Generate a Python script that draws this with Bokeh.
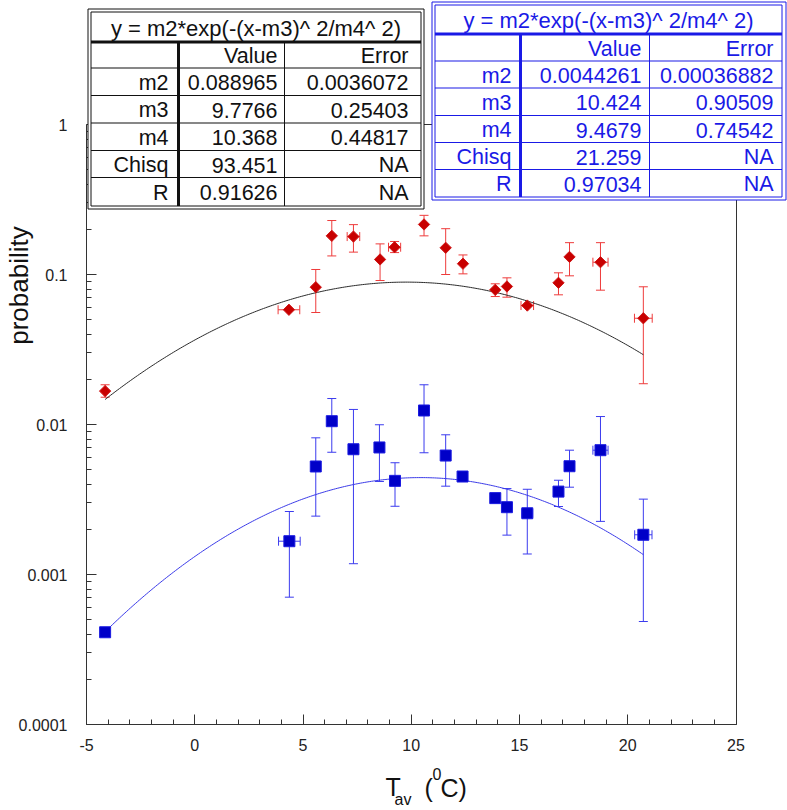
import numpy as np
from bokeh.plotting import figure
from bokeh.models import (ColumnDataSource, Whisker, TeeHead, FixedTicker,
                          CustomJSTickFormatter, Label, BoxAnnotation, LinearAxis, LogAxis, Range1d)
from bokeh.embed import file_html
from bokeh.resources import INLINE

# ---------------- data ----------------
red_x = [-4.14, 4.35, 5.59, 6.33, 7.33, 8.56, 9.23, 10.59, 11.59, 12.39, 13.88, 14.42, 15.36, 16.80, 17.31, 18.74, 20.72]
red_y = [0.0167, 0.0582, 0.0823, 0.181, 0.179, 0.126, 0.152, 0.2156, 0.1507, 0.118, 0.079, 0.0832, 0.0621, 0.088, 0.131, 0.1208, 0.0511]
red_lo = [0.0152, 0.0582, 0.0558, 0.133, 0.141, 0.0912, 0.140, 0.181, 0.100, 0.101, 0.0713, 0.0706, 0.0621, 0.0732, 0.098, 0.0786, 0.0187]
red_hi = [0.0184, 0.0582, 0.108, 0.229, 0.215, 0.160, 0.166, 0.248, 0.202, 0.135, 0.0867, 0.095, 0.0621, 0.1026, 0.163, 0.163, 0.0828]
red_xerr = [0, 0.5, 0, 0, 0.29, 0, 0.28, 0, 0, 0, 0, 0, 0.29, 0, 0, 0.35, 0.41]

blue_x = [-4.14, 4.37, 5.59, 6.33, 7.33, 8.53, 9.25, 10.59, 11.59, 12.37, 13.88, 14.42, 15.36, 16.80, 17.31, 18.74, 20.72]
blue_y = [0.000412, 0.001667, 0.00525, 0.01052, 0.00684, 0.00703, 0.00421, 0.0124, 0.00621, 0.0045, 0.00323, 0.00281, 0.00256, 0.00357, 0.00527, 0.00674, 0.00184]
blue_lo = [0.000412, 0.000706, 0.00245, 0.00653, 0.00118, 0.00417, 0.00285, 0.00648, 0.00388, 0.0045, 0.00323, 0.00183, 0.00137, 0.00284, 0.00382, 0.00226, 0.000486]
blue_hi = [0.000412, 0.00263, 0.00815, 0.0149, 0.0126, 0.00996, 0.00556, 0.0184, 0.00854, 0.0045, 0.00323, 0.00374, 0.0037, 0.00425, 0.00674, 0.0113, 0.00318]
blue_xerr = [0, 0.5, 0, 0, 0, 0, 0, 0, 0, 0, 0, 0, 0.25, 0, 0, 0.35, 0.4]

# fit parameters (from the tables): y = m2*exp(-(x-m3)^2/m4^2)
red_fit = {"m2": 0.088965, "m3": 9.7766, "m4": 10.368}
blue_fit = {"m2": 0.0044261, "m3": 10.424, "m4": 9.4679}

table_rows = ["m2", "m3", "m4", "Chisq", "R"]
red_tab_val = ["0.088965", "9.7766", "10.368", "93.451", "0.91626"]
red_tab_err = ["0.0036072", "0.25403", "0.44817", "NA", "NA"]
blue_tab_val = ["0.0044261", "10.424", "9.4679", "21.259", "0.97034"]
blue_tab_err = ["0.00036882", "0.90509", "0.74542", "NA", "NA"]
table_title = "y = m2*exp(-(x-m3)^ 2/m4^ 2)"

x_ticks = [-5, 0, 5, 10, 15, 20, 25]
y_ticks = [0.0001, 0.001, 0.01, 0.1, 1]
x_lim = (-5, 25)
y_lim = (1e-4, 1)

FONT = "Liberation Sans"

# ---------------- layout geometry (pixels in the 787x810 canvas) ----------------
W, H = 787, 810
PX_L, PX_R = 86.0, 735.5      # x = -5 and x = 25
PY_T, PY_B = 124.0, 724.0     # y = 1 and y = 1e-4
ux = (PX_R - PX_L) / (x_lim[1] - x_lim[0])
dec = (PY_B - PY_T) / (np.log10(y_lim[1]) - np.log10(y_lim[0]))
xr = Range1d(x_lim[0] - PX_L / ux, x_lim[1] + (W - PX_R) / ux)
yr = Range1d(10 ** (np.log10(y_lim[0]) - (H - PY_B) / dec), 10 ** (np.log10(y_lim[1]) + PY_T / dec))

p = figure(width=W, height=H, y_axis_type="log", x_range=xr, y_range=yr,
           output_backend="svg", toolbar_location=None, title=None,
           x_axis_location=None, y_axis_location=None,
           min_border_left=0, min_border_right=0, min_border_top=0, min_border_bottom=0)
p.xgrid.visible = False
p.ygrid.visible = False
p.outline_line_color = None
p.background_fill_color = "white"
p.border_fill_color = "white"

AX = "#333333"
fmt = CustomJSTickFormatter(code="return tick.toString()")

def style(ax):
    ax.axis_line_color = AX
    ax.major_tick_line_color = AX
    ax.minor_tick_line_color = AX
    ax.major_tick_in = 10
    ax.major_tick_out = 0
    ax.minor_tick_in = 5
    ax.minor_tick_out = 0
    ax.major_label_text_font = FONT
    ax.major_label_text_font_size = "16px"
    ax.major_label_text_color = "#222222"

xa = LinearAxis(fixed_location=y_lim[0], bounds=x_lim, formatter=fmt,
                ticker=FixedTicker(ticks=x_ticks, minor_ticks=list(range(-5, 26))))
style(xa)
xa.major_label_standoff = 14
p.add_layout(xa, "below")

ya = LogAxis(fixed_location=x_lim[0], bounds=y_lim, formatter=fmt,
             ticker=FixedTicker(ticks=y_ticks, minor_ticks=[k * 10.0 ** e for e in range(-4, 0) for k in range(2, 10)]))
style(ya)
ya.major_label_standoff = 19
p.add_layout(ya, "left")

# right and top frame lines
p.add_layout(LogAxis(fixed_location=x_lim[1], bounds=y_lim, ticker=FixedTicker(ticks=[]),
                     major_tick_in=0, major_tick_out=0, minor_tick_in=0, minor_tick_out=0,
                     axis_line_color=AX), "right")
p.add_layout(LinearAxis(fixed_location=y_lim[1], bounds=x_lim, ticker=FixedTicker(ticks=[]),
                        major_tick_in=0, major_tick_out=0, minor_tick_in=0, minor_tick_out=0,
                        axis_line_color=AX), "above")

# fit curves
def model(x, prm):
    return prm["m2"] * np.exp(-((x - prm["m3"]) ** 2) / prm["m4"] ** 2)

fx = np.linspace(min(red_x), max(red_x), 300)
p.line(fx, model(fx, red_fit), line_color="#2a2a2a", line_width=1)
bx = np.linspace(min(blue_x), max(blue_x), 300)
p.line(bx, model(bx, blue_fit), line_color="#3a3ae8", line_width=1)

# error bars
def add_errors(xs, ys, lo, hi, xerr, color):
    iy = [i for i in range(len(xs)) if hi[i] != lo[i]]
    s1 = ColumnDataSource(dict(x=[xs[i] for i in iy], lo=[lo[i] for i in iy], hi=[hi[i] for i in iy]))
    p.add_layout(Whisker(source=s1, base="x", lower="lo", upper="hi", dimension="height",
                         line_color=color, line_width=1, level="underlay",
                         upper_head=TeeHead(size=9, line_color=color, line_width=1),
                         lower_head=TeeHead(size=9, line_color=color, line_width=1)))
    ix = [i for i in range(len(xs)) if xerr[i] > 0]
    s2 = ColumnDataSource(dict(y=[ys[i] for i in ix], lo=[xs[i] - xerr[i] for i in ix],
                               hi=[xs[i] + xerr[i] for i in ix]))
    p.add_layout(Whisker(source=s2, base="y", lower="lo", upper="hi", dimension="width",
                         line_color=color, line_width=1, level="underlay",
                         upper_head=TeeHead(size=9, line_color=color, line_width=1),
                         lower_head=TeeHead(size=9, line_color=color, line_width=1)))

add_errors(red_x, red_y, red_lo, red_hi, red_xerr, "#ee3b3b")
add_errors(blue_x, blue_y, blue_lo, blue_hi, blue_xerr, "#3b3bee")

p.scatter(red_x, red_y, marker="square", angle=np.pi / 4, size=8, fill_color="#c80000", line_color="#d01818", line_width=1)
p.scatter(blue_x, blue_y, marker="square", size=11, fill_color="#0000c8", line_color="#1a1ae0", line_width=1)

# ---------------- screen helpers (canvas px from top-left -> screen units) ----------------
def box(x0, y0, x1, y1, fill=None, line=None, lw=1):
    p.add_layout(BoxAnnotation(left=x0, right=x1, top=H - y0, bottom=H - y1,
                               left_units="screen", right_units="screen", top_units="screen", bottom_units="screen",
                               fill_color=fill if fill else "white", fill_alpha=1 if fill else 0,
                               line_color=line if line else "white", line_width=lw,
                               line_alpha=1 if line else 0, level="overlay"))

def text(x, y, s, size, color, align="left", baseline="middle", angle=0):
    p.add_layout(Label(x=x, y=H - y, x_units="screen", y_units="screen", text=s, angle=angle,
                       text_font=FONT, text_font_size=size, text_color=color, text_align=align,
                       text_baseline=baseline, level="overlay"))

def table(outer, inner, rows_y, cols_x, color, vals, errs, lab_right, val_right, err_right):
    ox0, oy0, ox1, oy1 = outer
    ix0, iy0, ix1, iy1 = inner
    box(ox0, oy0, ox1, oy1, fill="white", line=color)
    box(ix0, iy0, ix1, iy1, line=color)
    box(ix0, rows_y[0] - 1.5, ix1, rows_y[0] + 1.5, fill=color)
    for ry in rows_y[1:]:
        box(ix0, ry - 0.5, ix1, ry + 0.5, fill=color)
    box(cols_x[0] - 1.5, rows_y[0], cols_x[0] + 1.5, iy1, fill=color)
    box(cols_x[1] - 0.5, rows_y[0], cols_x[1] + 0.5, iy1, fill=color)
    fs = "21.5px"
    text((ix0 + ix1) / 2, (iy0 + rows_y[0]) / 2 + 1, table_title, "22px", color, align="center")
    edges = [rows_y[0]] + list(rows_y[1:]) + [iy1]
    cy = [(edges[i] + edges[i + 1]) / 2 + 1 for i in range(len(edges) - 1)]
    text(val_right, cy[0], "Value", fs, color, align="right")
    text(err_right, cy[0], "Error", fs, color, align="right")
    for k, name in enumerate(table_rows):
        text(lab_right, cy[k + 1], name, fs, color, align="right")
        text(val_right, cy[k + 1], vals[k], fs, color, align="right")
        text(err_right, cy[k + 1], errs[k], fs, color, align="right")

table((87.5, 8.5, 423.5, 208.5), (90.5, 11.5, 420.5, 205.5),
      [41.5, 67.5, 95, 122.5, 150, 177], [178, 284], "#111111",
      red_tab_val, red_tab_err, 168, 277, 408)
table((431.5, 1.5, 785.5, 199.5), (434.5, 4.5, 781.5, 196.5),
      [33.5, 60.5, 87.5, 115, 142, 169], [520, 649], "#1a1ae6",
      blue_tab_val, blue_tab_err, 511, 641, 773)

# axis titles
text(18, 285, "probability", "26px", "#111111", align="center", angle=np.pi / 2)
text(385, 786, "T", "25px", "#111111")
text(394, 799, "av", "16px", "#111111")
text(424, 787, "(", "25px", "#111111")
text(432, 773, "0", "16px", "#111111")
text(440, 787, "C)", "25px", "#111111")

open("out.html", "w").write(file_html(p, INLINE))
